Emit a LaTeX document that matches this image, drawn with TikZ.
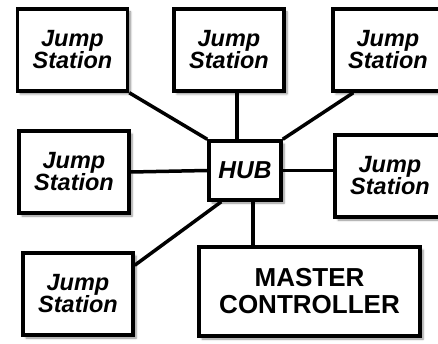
\documentclass[tikz,border=0pt]{standalone}
\usepackage{fontspec}
\setmainfont{Liberation Sans}
\usetikzlibrary{shadows.blur}

\begin{document}
\begin{tikzpicture}[x=1pt,y=-1pt,
  box/.style={draw,line width=3.5pt,fill=white,align=center,
    blur shadow={shadow xshift=3pt,shadow yshift=-3pt,shadow blur steps=6,shadow opacity=45}},
  station/.style={box,minimum width=110pt,minimum height=82pt,
    font=\fontsize{23.5}{22}\selectfont\bfseries\itshape},
  link/.style={line width=3.5pt}]
  \useasboundingbox (0,0) rectangle (438,344);
  \clip (0,0) rectangle (438,344);

  \node[station] (tl) at (72.5,50){Jump\\Station};
  \node[station] (tm) at (229,50){Jump\\Station};
  \node[station] (tr) at (388,50){Jump\\Station};

  \node[station] (ml) at (74,172){Jump\\Station};
  \node[box,minimum width=72pt,minimum height=59pt,
    font=\fontsize{24.5}{24}\selectfont\bfseries\itshape] (hub) at (245,170.5){HUB};
  \node[station] (mr) at (390,176){Jump\\Station};

  \node[station] (bl) at (78,294){Jump\\Station};
  \node[box,minimum width=221pt,minimum height=89pt,
    font=\fontsize{26}{27}\selectfont\bfseries] (mc) at (309.5,291.5){MASTER\\CONTROLLER};

  \draw[link] (tl.south east) -- (hub.north west);
  \draw[link] ([xshift=8pt]tm.south) -- ([xshift=-8pt]hub.north);
  \draw[link] ([xshift=22pt]tr.south west) -- (hub.north east);

  \draw[link] (ml.east) -- (hub.west);
  \draw[link] (hub.east) -- (hub.east -| mr.west);

  \draw[link] ([yshift=-14pt]bl.north east) -- ([xshift=14pt]hub.south west);
  \draw[link] ([xshift=8pt]hub.south) -- ([xshift=8pt]hub.south |- mc.north);
\end{tikzpicture}
\end{document}
